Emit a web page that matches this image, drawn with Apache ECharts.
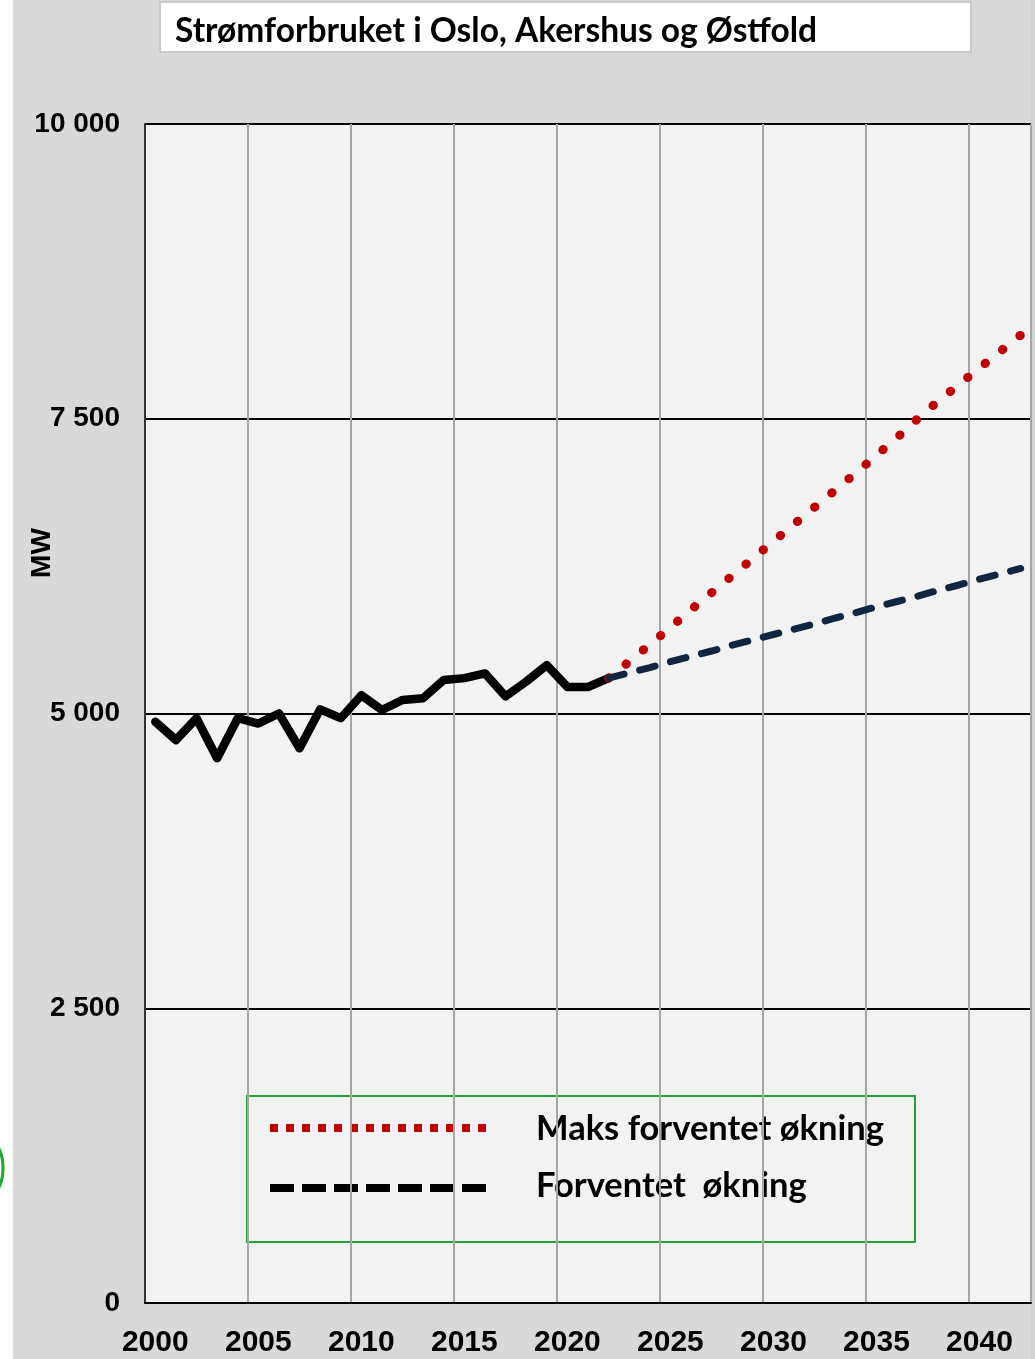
<!DOCTYPE html>
<html>
<head>
<meta charset="utf-8">
<script src="https://cdn.jsdelivr.net/npm/echarts@6/dist/echarts.min.js"></script>
<style>
html,body{margin:0;padding:0;background:#ffffff;}
#chart{position:absolute;left:0;top:0;width:1035px;height:1359px;background:linear-gradient(to right,#ffffff 0,#ffffff 13px,#d9d9d9 13px,#d9d9d9 1031px,#d2d2d2 1031px);}
</style>
</head>
<body>
<div id="chart"></div>
<script>
const years = ['2000','2001','2002','2003','2004','2005','2006','2007','2008','2009','2010',
  '2011','2012','2013','2014','2015','2016','2017','2018','2019','2020','2021','2022',
  '2023','2024','2025','2026','2027','2028','2029','2030','2031','2032','2033','2034',
  '2035','2036','2037','2038','2039','2040','2041','2042'];
// historical consumption 2000-2022 (MW)
const history = [4930,4775,4960,4620,4960,4915,5000,4705,5035,4960,5155,
  5030,5115,5130,5285,5300,5340,5145,5270,5410,5225,5225,5300];
// forecasts 2022-2042 (MW)
const maxForecast = [5300,5440,5585,5730,5880,6025,6170,6315,6460,6605,6750,
  6895,7040,7190,7340,7500,7650,7790,7930,8070,8210];
const expectedForecast = [5300,5345,5390,5440,5485,5530,5580,5625,5670,5715,5760,
  5810,5855,5905,5950,5995,6045,6090,6140,6185,6230];
const yTickLabels = ['0','2 500','5 000','7 500','10 000'];
const titleText = 'Strømforbruket i Oslo, Akershus og Østfold';
const legendNames = ['Maks forventet økning','Forventet  økning'];
const yName = 'MW';

const pad = new Array(history.length - 1).fill(null);
const chart = echarts.init(document.getElementById('chart'), null, {renderer:'canvas'});
chart.setOption({
  backgroundColor: 'transparent',
  animation: false,
  title: {
    text: titleText, left: 170, top: 9,
    textStyle: {fontFamily: 'Lato', fontWeight: 'bold', fontSize: 33.5, color: '#000'}
  },
  grid: {
    left: 145, right: 4, top: 124, bottom: 56,
    show: true, backgroundColor: '#f2f2f2', borderWidth: 0
  },
  xAxis: {
    type: 'category', data: years, boundaryGap: true,
    axisLine: {show: true, lineStyle: {color: '#000', width: 2}},
    axisTick: {show: false, interval: 4},
    axisLabel: {interval: 4, fontFamily: 'Liberation Sans', fontWeight: 'bold', fontSize: 30, color: '#000', margin: 25},
    splitLine: {show: true, interval: 4, lineStyle: {color: '#a6a6a6', width: 2}}
  },
  yAxis: {
    type: 'value', min: 0, max: 10000, interval: 2500,
    axisLine: {show: true, lineStyle: {color: '#333', width: 2}},
    axisTick: {show: false},
    axisLabel: {
      formatter: v => yTickLabels[Math.round(v / 2500)],
      fontFamily: 'Liberation Sans', fontWeight: 'bold', fontSize: 28, color: '#000', margin: 25
    },
    splitLine: {show: true, lineStyle: {color: '#000', width: 2}}
  },
  series: [
    {
      name: 'Historisk', type: 'line', data: history, showSymbol: false, symbol: 'none',
      lineStyle: {color: '#000', width: 8.5, cap: 'round', join: 'round'}, z: 3
    },
    {
      name: legendNames[0], type: 'line', data: pad.concat(maxForecast), showSymbol: false, symbol: 'none',
      lineStyle: {color: '#c00000', width: 9, cap: 'round', type: [0.5, 21.8]}, z: 4
    },
    {
      name: legendNames[1], type: 'line', data: pad.concat(expectedForecast), showSymbol: false, symbol: 'none',
      lineStyle: {color: '#10253f', width: 7, cap: 'round', type: [16, 16]}, z: 5
    }
  ],
  graphic: [
    {type: 'rect', z: -1, shape: {x: 160, y: 2, width: 811, height: 50},
      style: {fill: '#ffffff', stroke: '#c9c9c9', lineWidth: 2}},
    {type: 'text', x: 42, y: 553, rotation: Math.PI / 2,
      style: {text: yName, fontFamily: 'Liberation Sans', fontWeight: 'bold', fontSize: 28, fill: '#000', align: 'center', verticalAlign: 'middle'}},
    {type: 'ellipse', shape: {cx: -7, cy: 1168, rx: 10, ry: 24},
      style: {fill: 'none', stroke: '#1fa82f', lineWidth: 3}},
    {type: 'group', z: 10, children: [
      {type: 'rect', shape: {x: 247, y: 1096, width: 668, height: 146},
        style: {fill: 'none', stroke: '#26a03a', lineWidth: 2}},
      {type: 'line', shape: {x1: 270, y1: 1128, x2: 486, y2: 1128},
        style: {stroke: '#c00000', lineWidth: 8, lineDash: [8, 8], lineCap: 'butt'}},
      {type: 'line', shape: {x1: 270, y1: 1188, x2: 486, y2: 1188},
        style: {stroke: '#000000', lineWidth: 8, lineDash: [24, 8], lineCap: 'butt'}},
      {type: 'text', x: 536, y: 1129,
        style: {text: legendNames[0], fontFamily: 'Lato', fontWeight: 'bold', fontSize: 34.5, fill: '#000', align: 'left', verticalAlign: 'middle'}},
      {type: 'text', x: 536, y: 1186,
        style: {text: legendNames[1], fontFamily: 'Lato', fontWeight: 'bold', fontSize: 34.5, fill: '#000', align: 'left', verticalAlign: 'middle'}}
    ]}
  ]
});
</script>
</body>
</html>
